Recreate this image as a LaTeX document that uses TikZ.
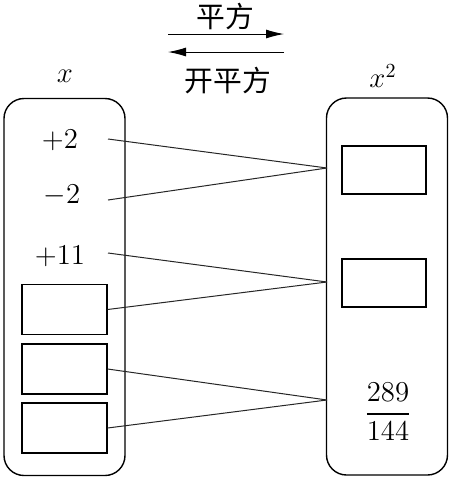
\documentclass[tikz,border=0pt]{standalone}
\usepackage{fontspec}
\usepackage{amsmath}
\newfontfamily\cjk{Noto Sans CJK SC}
\usetikzlibrary{arrows.meta,positioning}

\begin{document}
\begin{tikzpicture}[
            x=0.5pt, y=-0.5pt,
            font=\Large,
            panel/.style={draw, line width=0.7pt, rounded corners=10pt,
            minimum width=60.5pt, minimum height=188.5pt, inner sep=0pt},
            slot/.style={draw, line width=0.6pt,
            minimum width=42.5pt, minimum height=25pt, inner sep=0pt},
            val/.style={inner sep=1pt},
            link/.style={line width=0.5pt, black!85},
            op/.style={-{Latex[length=9pt,width=4.5pt]}, line width=0.5pt}
        ]
\useasboundingbox (0,0) rectangle (454,478);
% operations on top
            \node[font=\cjk\Large]                      (sq)   at (225,16)  {平方};
            \node[font=\cjk\Large]                      (rt)   at (228,81)  {开平方};
            \coordinate (sqa) at (168,34);  \coordinate (sqb) at (284,34);
            \coordinate (rta) at (284,52);  \coordinate (rtb) at (168,52);
            \draw[op] (sqa) -- (sqb);
            \draw[op] (rta) -- (rtb);
% left set: x
            \node[panel]                                (xs)   at (64.5,287) {};
            \node                                       (xl)   at (65,76)   {$x$};
            \node[val]                                  (v1)   at (60,140)  {$+2$};
            \node[val]                                  (v2)   at (62,195)  {$-2$};
            \node[val]                                  (v3)   at (60,256)  {$+11$};
            \node[slot]                                 (b1)   at (64.5,309.5) {};
            \node[slot]                                 (b2)   at (64.5,369) {};
            \node[slot]                                 (b3)   at (64.5,428) {};
% right set: x^2
            \node[panel]                                (ys)   at (387,286.5) {};
            \node                                       (yl)   at (383,76)  {$x^2$};
            \node[slot, minimum width=42pt, minimum height=24pt] (c1) at (384,170) {};
            \node[slot, minimum width=42pt, minimum height=24pt] (c2) at (384,283) {};
            \node[val]                                  (c3)   at (388,412) {$\dfrac{289}{144}$};
% line ends
            \coordinate (a1) at (108,139);
            \coordinate (a2) at (108,200);
            \coordinate (a3) at (108,253);
            \coordinate (s1) at (327,168);
            \coordinate (s2) at (327,282);
            \coordinate (s3) at (327,400);
% pairs
            \draw[link] (a1) -- (s1);
            \draw[link] (a2) -- (s1);
            \draw[link] (a3) -- (s2);
            \draw[link] (b1.east) -- (s2);
            \draw[link] (b2.east) -- (s3);
            \draw[link] (b3.east) -- (s3);
        \end{tikzpicture}
\end{document}
